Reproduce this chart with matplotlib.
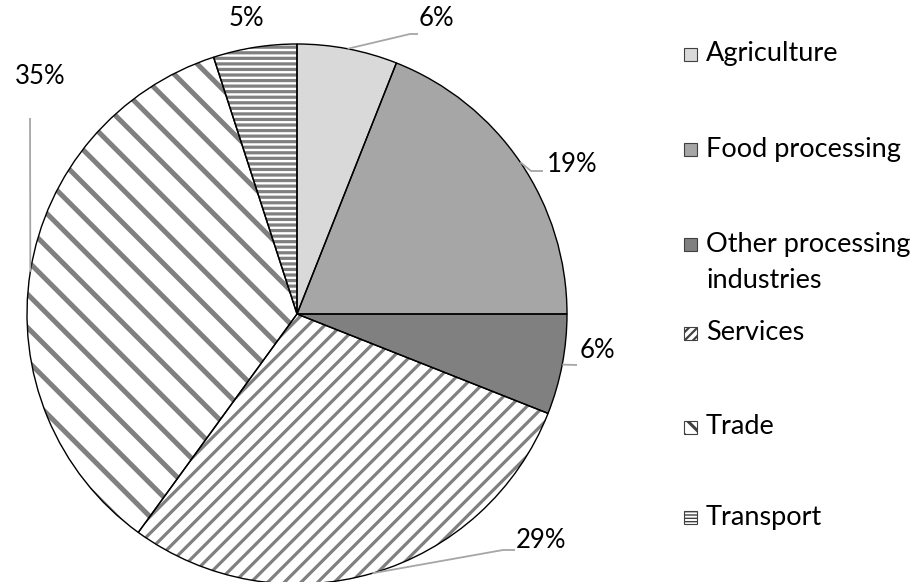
import numpy as np
import matplotlib
matplotlib.use('Agg')
import matplotlib.pyplot as plt
from matplotlib.patches import Rectangle

# data
categories = ['Agriculture', 'Food processing', 'Other processing\nindustries',
              'Services', 'Trade', 'Transport']
shares = [6, 19, 6, 29, 35, 5]
labels = ['6%', '19%', '6%', '29%', '35%', '5%']

# styles
face_colors = ['#d9d9d9', '#a6a6a6', '#808080', 'white', 'white', 'white']
hatches = [None, None, None, '//', '\\', '---']
hatch_lw = [1, 1, 1, 2.3, 3.6, 2.3]

W, H = 915, 582
plt.rcParams['font.family'] = ['Lato', 'DejaVu Sans']

fig = plt.figure(figsize=(W / 100, H / 100), dpi=100)
ax = fig.add_axes([0, 0, 1, 1])


def Y(py):
    return H - py


def hatch_width(p, lw):
    if hasattr(p, 'set_hatch_linewidth'):
        p.set_hatch_linewidth(lw)


cx, cy, r = 297, 314, 270

# fill + hatch (gray hatch lines come from the edge colour)
wedges, _ = ax.pie(shares, colors=face_colors, startangle=90, counterclock=False,
                   center=(cx, Y(cy)), radius=r, frame=True,
                   wedgeprops=dict(edgecolor='#808080', linewidth=0))
for w, h, lw in zip(wedges, hatches, hatch_lw):
    if h:
        w.set_hatch(h)
        hatch_width(w, lw)

# black outlines on top
ax.pie(shares, colors=['none'] * len(shares), startangle=90, counterclock=False,
       center=(cx, Y(cy)), radius=r, frame=True,
       wedgeprops=dict(edgecolor='black', linewidth=1.0, fill=False))
ax.set_xlim(0, W)
ax.set_ylim(0, H)
ax.set_aspect('auto')
ax.axis('off')

# label positions (pixels) and leader bend points
label_pos = [(436, 19), (572, 164), (597, 350), (541, 541), (40, 77), (246, 19)]
bends = [[(410, 34), (418, 34)],
         [(531, 171), (543, 171)],
         [(577, 365)],
         [(503, 550), (515, 550)],
         [(30, 118)],
         None]

cum = np.cumsum([0] + shares)
for i, lab in enumerate(labels):
    mid = (cum[i] + cum[i + 1]) / 2 / sum(shares) * 2 * np.pi
    sx, sy = cx + r * np.sin(mid), cy - r * np.cos(mid)
    if bends[i]:
        pts = [(sx, sy)] + bends[i]
        ax.plot([p[0] for p in pts], [Y(p[1]) for p in pts], color='#a6a6a6',
                lw=1.3, solid_capstyle='butt', zorder=1)
    ax.text(label_pos[i][0], Y(label_pos[i][1]), lab, fontsize=18.5,
            ha='center', va='center')

# legend
leg_y = [54, 149, 244, 333, 427, 517]
leg_hatch = [None, None, None, '////', '\\\\', '-----']
leg_hatch_lw = [1, 1, 1, 1.6, 2.2, 1.0]
for i, name in enumerate(categories):
    y = leg_y[i]
    p = Rectangle((684, Y(y) - 6.5), 13, 13, facecolor=face_colors[i],
                  edgecolor='#404040', lw=0.8, hatch=leg_hatch[i])
    hatch_width(p, leg_hatch_lw[i])
    ax.add_patch(p)
    if '\n' in name:
        ax.text(706, Y(y) + 12, name, fontsize=19.5, ha='left', va='top',
                linespacing=1.55)
    else:
        ax.text(706, Y(y), name, fontsize=19.5, ha='left', va='center')

fig.savefig('out.png', dpi=100)
